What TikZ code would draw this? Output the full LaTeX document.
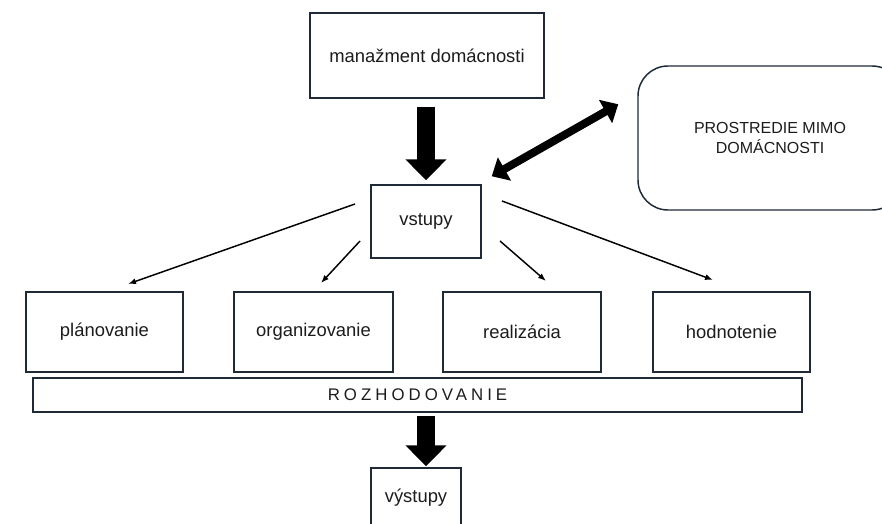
\documentclass[tikz,border=0pt]{standalone}
\usepackage{fontspec}
\setmainfont{Liberation Sans}
\usetikzlibrary{arrows.meta}
\definecolor{boxline}{RGB}{30,42,56}
\definecolor{txt}{RGB}{28,28,28}
\tikzset{every picture/.style={line width=0.75pt}}
\tikzset{
  box/.style={draw=boxline, line width=1.1pt, fill=white, inner sep=0pt, text=txt,
    font=\fontsize{13.8}{16.5}\selectfont, align=center},
  fat/.style={line width=13.5pt, -{Triangle[length=15.75pt,width=30pt]}},
  dbl/.style={line width=6pt, {Triangle[length=11pt,width=19.5pt]}-{Triangle[length=11pt,width=19.5pt]}},
  thin/.style={line width=1.1pt, -{Latex[length=6pt,width=4.5pt]}}
}

\begin{document}
\begin{tikzpicture}[x=0.75pt,y=0.75pt,yscale=-1,xscale=1]
\useasboundingbox (0,0) rectangle (882,524);

%Shape: Rectangle [manazment]
\node[box, minimum width=175.5pt, minimum height=63.75pt] (mgmt) at (427,55.5) {manažment domácnosti};
%Shape: Rectangle [vstupy]
\node[box, minimum width=82.5pt, minimum height=54.75pt] (vst) at (426,221.5) {vstupy};
%Shape: Rounded Rect [prostredie]
\node[box, rounded corners=22.5pt, minimum width=198pt, minimum height=108pt,
  font=\fontsize{12}{15.5}\selectfont] (env) at (770,138) {PROSTREDIE MIMO\\DOMÁCNOSTI};
%Shape: Rectangle [row of activities]
\node[box, minimum width=117.75pt, minimum height=60pt] (plan) at (104.5,332) {plánovanie};
\node[box, minimum width=119.25pt, minimum height=60pt] (org) at (313.5,332) {organizovanie};
\node[box, minimum width=118.5pt, minimum height=60pt] (real) at (522,332) {realizácia};
\node[box, minimum width=117.75pt, minimum height=60pt] (eval) at (731.5,332) {hodnotenie};
%Shape: Rectangle [rozhodovanie]
\node[box, minimum width=576.75pt, minimum height=25.5pt,
  font=\fontsize{12.6}{15}\selectfont\addfontfeature{LetterSpace=24}] (bar) at (417.5,395) {ROZHODOVANIE};
%Shape: Rectangle [vystupy]
\node[box, minimum width=67.5pt, minimum height=45pt] (out) at (416,498) {výstupy};

% Thick arrows
\draw[fat, shorten <=6pt, shorten >=3pt] (mgmt.south -| vst.center) -- (vst.north);
\draw[fat, shorten <=2.25pt, shorten >=0.75pt] (bar.south -| vst.center) -- (out.north -| vst.center);
\draw[dbl] ([xshift=7.5pt,yshift=-6pt]vst.north east) -- ([xshift=-14.25pt,yshift=29.25pt]env.north west);

% Thin arrows
\coordinate (v1) at (355,204);
\coordinate (v2) at (360,241);
\coordinate (v3) at (500,241);
\coordinate (v4) at (502,201);
\coordinate (p1) at (128,284);
\coordinate (p2) at (321,283);
\coordinate (p3) at (546,281);
\coordinate (p4) at (713,280);
\draw[thin] (v1) -- (p1);
\draw[thin] (v2) -- (p2);
\draw[thin] (v3) -- (p3);
\draw[thin] (v4) -- (p4);

\end{tikzpicture}
\end{document}
